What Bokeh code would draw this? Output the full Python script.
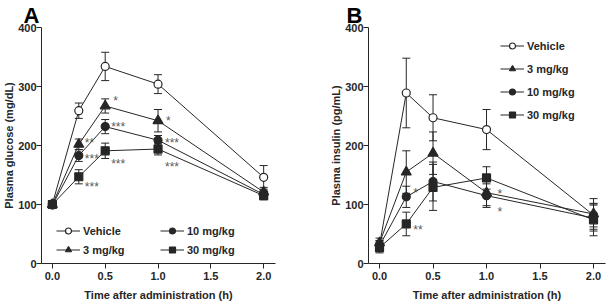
from bokeh.plotting import figure
from bokeh.layouts import row
from bokeh.models import (ColumnDataSource, Whisker, TeeHead, Legend, LegendItem,
                          FixedTicker, Range1d)
from bokeh.core.properties import value
from bokeh.embed import file_html
from bokeh.resources import INLINE

# Sampling times (h)
times = [0.0, 0.25, 0.5, 1.0, 2.0]
x_ticks = [0.0, 0.5, 1.0, 1.5, 2.0]
y_ticks = [0, 100, 200, 300, 400]
groups = ["Vehicle", "3 mg/kg", "10 mg/kg", "30 mg/kg"]

# Panel A: plasma glucose (mg/dL), mean and SEM
glucose_vehicle = [101, 259, 334, 304, 146]
glucose_vehicle_sem = [5, 13, 24, 16, 20]
glucose_3 = [100, 202, 267, 242, 121]
glucose_3_sem = [4, 9, 12, 19, 8]
glucose_10 = [99, 183, 232, 209, 117]
glucose_10_sem = [4, 10, 12, 8, 7]
glucose_30 = [100, 147, 191, 194, 115]
glucose_30_sem = [4, 12, 13, 10, 7]

# Panel B: plasma insulin (pg/mL), mean and SEM
insulin_vehicle = [31, 289, 247, 227, 82]
insulin_vehicle_sem = [8, 59, 39, 34, 20]
insulin_3 = [35, 155, 187, 120, 84]
insulin_3_sem = [8, 36, 36, 22, 26]
insulin_10 = [30, 113, 139, 115, 77]
insulin_10_sem = [8, 18, 33, 20, 22]
insulin_30 = [27, 67, 129, 145, 74]
insulin_30_sem = [9, 20, 39, 19, 27]

# Significance marks versus vehicle: (group index, time, label)
glucose_sig_group = [1, 2, 3, 1, 2, 3, 1, 2, 3]
glucose_sig_time = [0.25, 0.25, 0.25, 0.5, 0.5, 0.5, 1.0, 1.0, 1.0]
glucose_sig_text = ["**", "***", "***", "*", "***", "***", "*", "***", "***"]
insulin_sig_group = [2, 3, 1, 2]
insulin_sig_time = [0.25, 0.25, 1.0, 1.0]
insulin_sig_text = ["*", "**", "*", "*"]

FONT = "Liberation Sans"
INK = "#262626"
STAR = "#5a5a5a"
MARKERS = ["circle", "triangle", "circle", "square"]
MSIZE = [8, 10, 8, 8]
FILLS = ["white", INK, INK, INK]


def panel(letter, ylabel, means, sems, sig_group, sig_time, sig_text,
          sig_dx, sig_dy, border_left, border_right, letter_dx):
    p = figure(width=303, height=305, output_backend="svg", toolbar_location=None,
               x_range=Range1d(-0.103, 2.112), y_range=Range1d(0, 400),
               min_border_left=border_left, min_border_right=border_right,
               min_border_top=27, min_border_bottom=42)
    p.outline_line_color = None
    p.xgrid.visible = False
    p.ygrid.visible = False
    p.background_fill_color = "white"
    p.border_fill_color = "white"

    # panel letter drawn as the plot title
    p.title.text = letter
    p.title.text_font = FONT
    p.title.text_font_size = "22px"
    p.title.text_font_style = "bold"
    p.title.text_color = "black"
    p.title.align = "left"
    p.title.offset = letter_dx
    p.title.standoff = 0

    for ax, ticks in ((p.xaxis[0], x_ticks), (p.yaxis[0], y_ticks)):
        ax.ticker = FixedTicker(ticks=ticks)
        ax.minor_tick_line_color = None
        ax.major_tick_in = 0
        ax.major_tick_out = 5
        ax.axis_line_color = INK
        ax.major_tick_line_color = INK
        ax.major_label_text_font = FONT
        ax.major_label_text_font_style = "bold"
        ax.major_label_text_font_size = "11px"
        ax.major_label_text_color = INK
        ax.axis_label_text_font = FONT
        ax.axis_label_text_font_style = "bold"
        ax.axis_label_text_font_size = "11px"
        ax.axis_label_text_color = INK
    p.xaxis[0].major_label_overrides = {t: f"{t:.1f}" for t in x_ticks}
    p.xaxis[0].major_label_standoff = 3
    p.xaxis[0].axis_label_standoff = 6
    p.yaxis[0].major_label_standoff = 0
    p.yaxis[0].axis_label_standoff = 0
    p.xaxis[0].axis_label = "Time after administration (h)"
    p.yaxis[0].axis_label = ylabel

    items = []
    for i, g in enumerate(groups):
        m, s = means[i], sems[i]
        src = ColumnDataSource(dict(t=times, v=m,
                                    lo=[a - b for a, b in zip(m, s)],
                                    hi=[a + b for a, b in zip(m, s)]))
        w = Whisker(base="t", lower="lo", upper="hi", source=src, level="underlay",
                    line_color=INK, line_width=1,
                    upper_head=TeeHead(size=8, line_color=INK, line_width=1),
                    lower_head=TeeHead(size=8, line_color=INK, line_width=1))
        p.add_layout(w)
        ln = p.line("t", "v", source=src, line_color=INK, line_width=1)
        sc = p.scatter("t", "v", source=src, marker=MARKERS[i], size=MSIZE[i],
                       fill_color=FILLS[i], line_color=INK, line_width=1.2)
        items.append(LegendItem(label=g, renderers=[ln, sc]))

    # significance asterisks next to the marked points
    sx, sy = [], []
    for gi, t in zip(sig_group, sig_time):
        sx.append(t)
        sy.append(means[gi][times.index(t)])
    ssrc = ColumnDataSource(dict(x=sx, y=sy, s=sig_text, dx=sig_dx, dy=sig_dy))
    p.text("x", "y", text="s", x_offset="dx", y_offset="dy", source=ssrc,
           text_font=value(FONT), text_font_size="12px", text_color=STAR,
           text_align="left", text_baseline="middle")
    return p, items


def style_legend(lg, spacing):
    lg.border_line_color = None
    lg.background_fill_alpha = 0
    lg.label_text_font = FONT
    lg.label_text_font_style = "bold"
    lg.label_text_font_size = "11px"
    lg.label_text_color = INK
    lg.glyph_width = 24
    lg.glyph_height = 15
    lg.label_height = 15
    lg.label_standoff = 3
    lg.padding = 4
    lg.margin = 0
    lg.spacing = spacing


pa, items_a = panel("A", "Plasma glucose (mg/dL)",
                    [glucose_vehicle, glucose_3, glucose_10, glucose_30],
                    [glucose_vehicle_sem, glucose_3_sem, glucose_10_sem, glucose_30_sem],
                    glucose_sig_group, glucose_sig_time, glucose_sig_text,
                    [6, 6, 6, 8, 6, 6, 8, 7, 7], [-1, 3, 10, -5, 0, 13, 0, 3, 18],
                    38, 28, -18)
leg_a1 = Legend(items=items_a[:2], location=(15, 6))
leg_a2 = Legend(items=items_a[2:], location=(119, 6))
for lg in (leg_a1, leg_a2):
    style_legend(lg, 4)
    pa.add_layout(lg)

pb, items_b = panel("B", "Plasma insulin (pg/mL)",
                    [insulin_vehicle, insulin_3, insulin_10, insulin_30],
                    [insulin_vehicle_sem, insulin_3_sem, insulin_10_sem, insulin_30_sem],
                    insulin_sig_group, insulin_sig_time, insulin_sig_text,
                    [7, 7, 11, 11], [-4, 6, 1, 16],
                    65, 1, -22)
leg_b = Legend(items=items_b, location=(132, 141))
style_legend(leg_b, 8)
pb.add_layout(leg_b)

layout = row(pa, pb)
open("out.html", "w").write(file_html(layout, INLINE))
